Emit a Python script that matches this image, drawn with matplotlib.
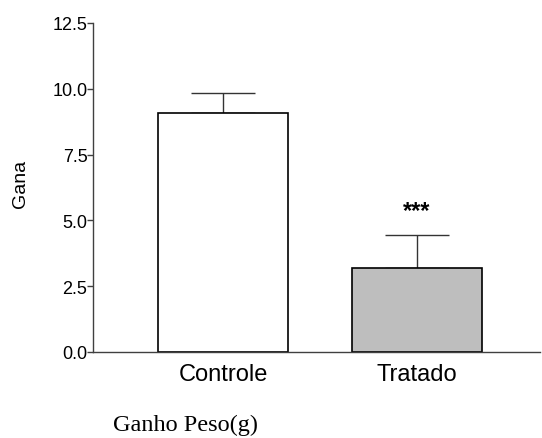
import numpy as np
import matplotlib
matplotlib.use('Agg')
import matplotlib.pyplot as plt

# group means and upper error (SEM)
grupos = ['Controle', 'Tratado']
medias = [9.09, 3.18]
erros = [0.76, 1.25]
cores = ['white', '#bebebe']
yticks = [0.0, 2.5, 5.0, 7.5, 10.0, 12.5]
ytick_labels = ['0.0', '2.5', '5.0', '7.5', '10.0', '12.5']

plt.rcParams['font.family'] = ['Liberation Sans', 'DejaVu Sans']

fig = plt.figure(figsize=(5.42, 4.39), dpi=100)
ax = fig.add_axes([93 / 542, 1 - 353 / 439, 447 / 542, 329 / 439])

x = np.arange(len(grupos))
ax.bar(x, medias, width=0.672, color=cores, edgecolor='black', linewidth=1.2, zorder=2)

# one-sided error bars (upper only)
ax.errorbar(x, medias, yerr=[np.zeros(len(erros)), erros], fmt='none',
            ecolor='#333333', elinewidth=1.0, capsize=23, capthick=1.0, zorder=1)

# significance marker above treated group
ax.text(x[1], medias[1] + erros[1] + 0.95, '***', ha='center', va='center',
        fontsize=17, fontweight='bold')

ax.set_xlim(-0.672, 1.638)
ax.set_ylim(0, 12.5)
ax.set_xticks(x)
ax.set_xticklabels(grupos, fontsize=17)
ax.set_yticks(yticks)
ax.set_yticklabels(ytick_labels, fontsize=13)
ax.tick_params(axis='x', length=0, pad=8)
ax.tick_params(axis='y', length=4, width=1.0, color='#404040', pad=0)

for s in ['top', 'right']:
    ax.spines[s].set_visible(False)
for s in ['left', 'bottom']:
    ax.spines[s].set_color('#404040')
    ax.spines[s].set_linewidth(1.0)

fig.text(21 / 542, 1 - 184 / 439, 'Gana', rotation=90, ha='center', va='center', fontsize=14)
fig.text(113 / 542, 1 - 425 / 439, 'Ganho Peso(g)', ha='left', va='center',
         fontsize=17.5, family=['Liberation Serif', 'DejaVu Serif'])

fig.savefig('out.png', dpi=100)
